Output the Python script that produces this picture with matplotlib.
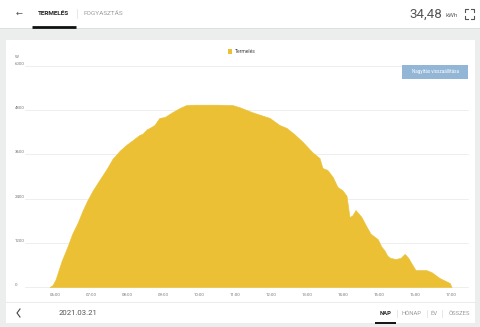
import matplotlib
matplotlib.use("Agg")
import matplotlib.pyplot as plt
from matplotlib.patches import Rectangle
from matplotlib.lines import Line2D

plt.rcParams['font.family'] = ['Roboto', 'DejaVu Sans']

# Production readings for the day (time of day, watts)
times = ["05:50", "05:55", "06:00", "06:05", "06:10", "06:15", "06:20", "06:28",
         "06:37", "06:45", "06:53", "07:02", "07:13", "07:25", "07:35", "07:47",
         "07:58", "08:08", "08:20", "08:25", "08:32", "08:37", "08:45", "08:53",
         "09:02", "09:13", "09:27", "09:38", "09:50", "10:10", "10:30", "10:55",
         "11:07", "11:28", "11:40", "11:57", "12:13", "12:25", "12:38", "12:52",
         "13:08", "13:20", "13:25", "13:33", "13:42", "13:50", "13:58", "14:05",
         "14:10", "14:15", "14:20", "14:30", "14:37", "14:45", "14:52", "14:57",
         "15:03", "15:08", "15:13", "15:18", "15:27", "15:35", "15:42", "15:48",
         "15:53", "16:00", "16:18", "16:27", "16:40", "16:57", "17:00"]
watts = [0, 50, 200, 450, 700, 900, 1100, 1450,
         1750, 2070, 2350, 2620, 2900, 3200, 3480, 3700,
         3860, 3980, 4130, 4160, 4280, 4320, 4400, 4590,
         4615, 4730, 4860, 4940, 4950, 4950, 4950, 4940,
         4880, 4745, 4680, 4590, 4400, 4320, 4150, 3940,
         3660, 3500, 3230, 3180, 2990, 2715, 2630, 2480,
         1900, 1950, 2090, 1900, 1680, 1450, 1360, 1300,
         1100, 1000, 850, 790, 760, 790, 900, 790,
         650, 460, 460, 400, 245, 110, 0]

x_ticks = ["06:00", "07:00", "08:00", "09:00", "10:00", "11:00",
           "12:00", "13:00", "14:00", "15:00", "16:00", "17:00"]
y_ticks = [0, 1200, 2400, 3600, 4800, 6000]

series_name = "Termelés"
total_label = "34,48"
date_label = "2021.03.21"

YELLOW = "#ebc034"
BG = "#eceeee"
W, H = 480, 327


def hours(s):
    h, m = s.split(":")
    return int(h) + int(m) / 60.0


def fx(x):
    return x / W


def fy(y):
    return 1 - y / H


fig = plt.figure(figsize=(4.8, 3.27), dpi=100)
fig.patch.set_facecolor(BG)

# header bar
fig.add_artist(Rectangle((0, fy(28)), 1, 28 / H, transform=fig.transFigure,
                         facecolor="white", edgecolor="none", zorder=-2))
fig.add_artist(Line2D([0, 1], [fy(28), fy(28)], transform=fig.transFigure,
                      color="#dddddd", lw=0.6, zorder=-1))
# chart card and footer
fig.add_artist(Rectangle((fx(6), fy(323)), fx(469), (323 - 40) / H,
                         transform=fig.transFigure, facecolor="white", edgecolor="none",
                         zorder=-2))
fig.add_artist(Line2D([fx(6), fx(475)], [fy(302), fy(302)], transform=fig.transFigure,
                      color="#e8e8e8", lw=0.6, zorder=-1))

# header texts
fig.text(fx(19), fy(13), "←", fontsize=6, color="#555555", ha="center", va="center",
         family=["DejaVu Sans"])
fig.text(fx(38), fy(13.5), "TERMELÉS", fontsize=4.6, weight="bold", color="#222222",
         va="center", ha="left")
fig.add_artist(Line2D([fx(77), fx(77)], [fy(9), fy(18)], transform=fig.transFigure,
                      color="#dddddd", lw=0.5))
fig.text(fx(83), fy(13.5), "FOGYASZTÁS", fontsize=4.6, color="#9a9a9a",
         va="center", ha="left")
fig.add_artist(Line2D([fx(32), fx(76)], [fy(26.5), fy(26.5)], transform=fig.transFigure,
                      color="#111111", lw=2.0, solid_capstyle="butt"))
fig.text(fx(442), fy(14.5), total_label, fontsize=9.6, color="#555555",
         va="center", ha="right")
fig.text(fx(445), fy(15.5), "kWh", fontsize=4.6, color="#666666",
         va="center", ha="left")
# fullscreen icon corners
for (cx, cy, dx, dy) in [(465, 9, 1, 1), (474, 9, -1, 1), (465, 19, 1, -1), (474, 19, -1, -1)]:
    fig.add_artist(Line2D([fx(cx), fx(cx), fx(cx + 3 * dx)],
                          [fy(cy + 3 * dy), fy(cy), fy(cy)],
                          transform=fig.transFigure, color="#555555", lw=0.8))

# plot area
left, right, top, bottom = 25, 468, 66, 287
ax = fig.add_axes([fx(left), fy(bottom), (right - left) / W, (bottom - top) / H])
ax.set_zorder(5)
ax.set_facecolor("none")
t = [hours(s) for s in times]
ax.fill_between(t, watts, 0, color=YELLOW, lw=0.4, edgecolor=YELLOW, zorder=2)
x0 = 6 + (left - 55.5) / 36.0
x1 = 6 + (right - 55.5) / 36.0
ax.set_xlim(x0, x1)
ax.set_ylim(0, 6000)
for v in y_ticks:
    ax.axhline(v, color="#e8e8e8", lw=0.5, zorder=1, clip_on=False)
for s in ax.spines.values():
    s.set_visible(False)
ax.set_yticks([])
ax.set_xticks([hours(s) for s in x_ticks])
ax.set_xticklabels(x_ticks, fontsize=3.2, color="#777777")
ax.tick_params(axis="x", length=0, pad=4)
ytr = ax.get_yaxis_transform()
for v in y_ticks:
    ax.text((15 - left) / (right - left), v, str(v), transform=ytr, fontsize=3.2,
            color="#777777", ha="left", va="bottom", clip_on=False)
fig.text(fx(15), fy(57), "W", fontsize=3.2, color="#777777", ha="left", va="center")

# legend
fig.add_artist(Rectangle((fx(227.5), fy(54)), 4.5 / W, 4.5 / H, transform=fig.transFigure,
                         facecolor=YELLOW, edgecolor="none"))
fig.text(fx(235), fy(51.5), series_name, fontsize=3.6, color="#444444",
         ha="left", va="center")

# reset zoom button
fig.add_artist(Rectangle((fx(402), fy(79)), 66 / W, 14 / H, transform=fig.transFigure,
                         facecolor="#93b6d6", edgecolor="none", zorder=6))
fig.text(fx(435), fy(72), "Nagyítás visszaállítása", fontsize=3.3, color="white",
         ha="center", va="center", zorder=7)

# footer
fig.add_artist(Line2D([fx(20), fx(17), fx(20)], [fy(309), fy(313), fy(317)],
                      transform=fig.transFigure, color="#444444", lw=0.8))
fig.text(fx(59), fy(313), date_label, fontsize=5.6, color="#555555",
         ha="left", va="center")
fig.text(fx(385.5), fy(313.5), "NAP", fontsize=4.2, weight="bold", color="#222222",
         ha="center", va="center")
fig.add_artist(Line2D([fx(375), fx(396)], [fy(323), fy(323)], transform=fig.transFigure,
                      color="#111111", lw=1.4, solid_capstyle="butt"))
for xs in (396.5, 427, 442):
    fig.add_artist(Line2D([fx(xs), fx(xs)], [fy(310), fy(317)], transform=fig.transFigure,
                          color="#dddddd", lw=0.5))
fig.text(fx(411.5), fy(313.5), "HÓNAP", fontsize=4.2, color="#999999", ha="center", va="center")
fig.text(fx(434.5), fy(313.5), "ÉV", fontsize=4.2, color="#999999", ha="center", va="center")
fig.text(fx(459.5), fy(313.5), "ÖSSZES", fontsize=4.2, color="#999999", ha="center", va="center")

fig.savefig("out.png", dpi=100, facecolor=BG)
